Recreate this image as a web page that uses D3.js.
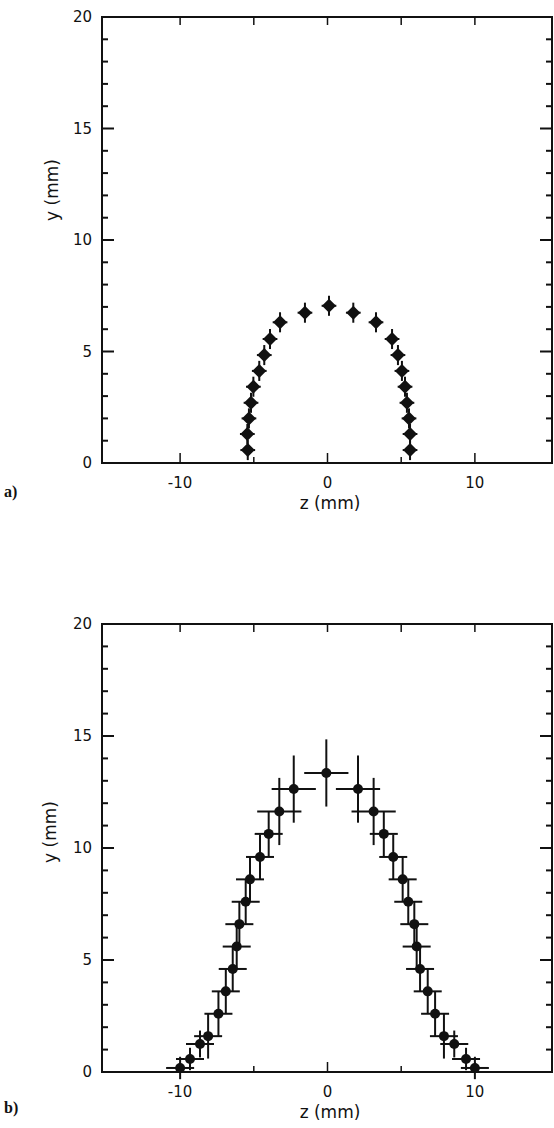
<!DOCTYPE html>
<html>
<head>
<meta charset="utf-8">
<script src="https://cdn.jsdelivr.net/npm/d3@7"></script>
<style>
  body { margin: 0; background: #fff; }
  svg { display: block; }
  .tick-label { font-family: "DejaVu Sans", sans-serif; font-size: 15px; fill: #111; }
  .axis-title { font-family: "DejaVu Sans", sans-serif; font-size: 17px; fill: #111; }
  .panel-tag { font-family: "Liberation Serif", serif; font-size: 16px; font-weight: bold; fill: #111; }
</style>
</head>
<body>
<svg id="chart"></svg>
<script>
// panel a) data: z (mm), y (mm)
const zA = [-5.41, -5.44, -5.33, -5.19, -5.03, -4.63, -4.29, -3.90, -3.22, -1.53, 0.10,
            1.75, 3.29, 4.38, 4.78, 5.05, 5.26, 5.39, 5.53, 5.60, 5.60];
const yA = [0.58, 1.30, 2.00, 2.70, 3.42, 4.13, 4.84, 5.56, 6.31, 6.74, 7.05,
            6.74, 6.31, 5.56, 4.84, 4.13, 3.42, 2.70, 2.00, 1.30, 0.58];
const zErrA = 0.5;
const yErrA = 0.45;

// panel b) data
const zB = [-10.0, -9.33, -8.65, -8.1, -7.4, -6.9, -6.43, -6.16, -5.98, -5.55, -5.26, -4.58, -3.99, -3.27, -2.29, -0.08,
            2.07, 3.13, 3.82, 4.46, 5.10, 5.48, 5.89, 6.05, 6.28, 6.8, 7.3, 7.9, 8.6, 9.4, 10.0];
const yB = [0.18, 0.58, 1.25, 1.6, 2.6, 3.6, 4.6, 5.6, 6.6, 7.6, 8.6, 9.6, 10.63, 11.63, 12.63, 13.35,
            12.63, 11.63, 10.63, 9.6, 8.6, 7.6, 6.6, 5.6, 4.6, 3.6, 2.6, 1.6, 1.25, 0.58, 0.18];
const zErrB = [0.95, 0.95, 0.95, 0.95, 0.95, 0.95, 0.95, 0.95, 0.95, 0.95, 0.95, 0.95, 0.95, 1.5, 1.5, 1.5,
               1.5, 1.5, 0.95, 0.95, 0.95, 0.95, 0.95, 0.95, 0.95, 0.95, 0.95, 0.95, 0.95, 0.95, 0.95];
const yErrB = [0.5, 0.5, 0.6, 1.0, 1.0, 1.0, 1.0, 1.0, 1.0, 1.0, 1.0, 1.0, 1.0, 1.5, 1.5, 1.5,
               1.5, 1.5, 1.0, 1.0, 1.0, 1.0, 1.0, 1.0, 1.0, 1.0, 1.0, 1.0, 0.6, 0.5, 0.5];

const zTicks = [-10, 0, 10];
const zMinor = [-5, 5];
const yTicks = [0, 5, 10, 15, 20];

const W = 554, H = 1128;
const svg = d3.select("#chart").attr("width", W).attr("height", H);

function panel(opts) {
  const x = d3.scaleLinear().domain([-15.3, 15.3]).range([102, 553]);
  const y = d3.scaleLinear().domain([0, 20]).range([opts.bottom, opts.top]);
  const g = svg.append("g");

  // frame
  g.append("rect")
    .attr("x", x.range()[0]).attr("y", y(20))
    .attr("width", x.range()[1] - x.range()[0] - 1).attr("height", y(0) - y(20))
    .attr("fill", "none").attr("stroke", "#111").attr("stroke-width", 2);

  // y ticks, left and right, inward
  d3.range(1, 20).forEach(v => {
    const len = v % 5 === 0 ? 12 : 6;
    g.append("line").attr("x1", 102).attr("x2", 102 + len).attr("y1", y(v)).attr("y2", y(v))
      .attr("stroke", "#111").attr("stroke-width", 2);
    g.append("line").attr("x1", 552).attr("x2", 552 - len).attr("y1", y(v)).attr("y2", y(v))
      .attr("stroke", "#111").attr("stroke-width", 2);
  });
  g.selectAll(".ylab").data(yTicks).enter().append("text")
    .attr("class", "tick-label")
    .attr("x", 92).attr("y", d => y(d) + 5)
    .attr("text-anchor", "end")
    .text(d => d);

  // x ticks bottom & top
  zTicks.concat(zMinor).forEach(v => {
    const len = zTicks.includes(v) ? 10 : 6;
    g.append("line").attr("x1", x(v)).attr("x2", x(v)).attr("y1", y(0)).attr("y2", y(0) - len)
      .attr("stroke", "#111").attr("stroke-width", 1.5);
    g.append("line").attr("x1", x(v)).attr("x2", x(v)).attr("y1", y(20)).attr("y2", y(20) + 8)
      .attr("stroke", "#111").attr("stroke-width", 1.5);
  });
  g.selectAll(".xlab").data(zTicks).enter().append("text")
    .attr("class", "tick-label")
    .attr("x", d => x(d)).attr("y", y(0) + 25)
    .attr("text-anchor", "middle")
    .text(d => d);

  // axis titles
  g.append("text").attr("class", "axis-title")
    .attr("x", 330).attr("y", y(0) + 46).attr("text-anchor", "middle")
    .text("z (mm)");
  g.append("text").attr("class", "axis-title")
    .attr("transform", `translate(${opts.ylabX},${opts.ylabY}) rotate(-90)`)
    .attr("text-anchor", "middle")
    .text("y (mm)");
  g.append("text").attr("class", "panel-tag")
    .attr("x", 4).attr("y", opts.tagY).text(opts.tag);

  // error bars
  const pts = opts.z.map((z, i) => ({z: z, y: opts.y[i], ez: opts.ez[i], ey: opts.ey[i]}));
  const eb = g.selectAll(".eb").data(pts).enter().append("g");
  eb.append("line")
    .attr("x1", d => x(d.z - d.ez)).attr("x2", d => x(d.z + d.ez))
    .attr("y1", d => y(d.y)).attr("y2", d => y(d.y))
    .attr("stroke", "#111").attr("stroke-width", 2);
  eb.append("line")
    .attr("x1", d => x(d.z)).attr("x2", d => x(d.z))
    .attr("y1", d => y(d.y - d.ey)).attr("y2", d => y(d.y + d.ey))
    .attr("stroke", "#111").attr("stroke-width", 2);

  // markers
  if (opts.marker === "diamond") {
    eb.append("path")
      .attr("transform", d => `translate(${x(d.z)},${y(d.y)})`)
      .attr("d", "M0,-7L7,0L0,7L-7,0Z")
      .attr("fill", "#111");
  } else {
    eb.append("circle")
      .attr("cx", d => x(d.z)).attr("cy", d => y(d.y)).attr("r", 5)
      .attr("fill", "#111");
  }
}

panel({
  top: 17, bottom: 463, tag: "a)", tagY: 497, ylabX: 58, ylabY: 190,
  z: zA, y: yA, ez: zA.map(() => zErrA), ey: yA.map(() => yErrA), marker: "diamond"
});
panel({
  top: 624, bottom: 1072, tag: "b)", tagY: 1113, ylabX: 56, ylabY: 832,
  z: zB, y: yB, ez: zErrB, ey: yErrB, marker: "circle"
});
</script>
</body>
</html>
